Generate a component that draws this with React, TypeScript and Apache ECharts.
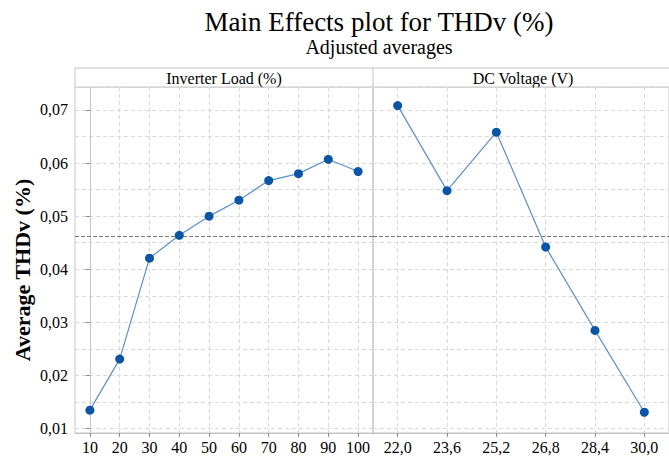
import React, { useEffect, useRef } from "react";
import * as echarts from "echarts";

const TITLE = "Main Effects plot for THDv (%)";
const SUBTITLE = "Adjusted averages";
const Y_NAME = "Average THDv (%)";
const PANEL_LABELS = ["Inverter Load (%)", "DC Voltage (V)"];

const LOAD_CATS = ["10", "20", "30", "40", "50", "60", "70", "80", "90", "100"];
const LOAD_VALUES = [0.0135, 0.0231, 0.0421, 0.0464, 0.05, 0.053, 0.0567, 0.058, 0.0607, 0.0584];

const VOLT_CATS = ["22,0", "23,6", "25,2", "26,8", "28,4", "30,0"];
const VOLT_VALUES = [0.0708, 0.0548, 0.0658, 0.0442, 0.0285, 0.0131];

const Y_TICKS = [0.01, 0.02, 0.03, 0.04, 0.05, 0.06, 0.07];
const Y_MIN = 0.0092;
const Y_MAX = 0.0743;
const MEAN = 0.0462;

const FONT = "'Liberation Serif', 'Times New Roman', serif";
const BORDER = "#c4c4c4";
const GRID_LINE = "#d9d9d9";
const LINE_COLOR = "#5a8fd0";
const MARKER_COLOR = "#0a55a5";

const fmtY = (v: number) => {
  const r = Math.round(v * 100) / 100;
  if (Math.abs(v - r) > 1e-6) return "";
  return r.toFixed(2).replace(".", ",");
};

export default function App() {
  const ref = useRef<HTMLDivElement>(null);
  useEffect(() => {
    document.body.style.margin = "0";
    if (!ref.current) return;
    const chart = echarts.init(ref.current, null, { renderer: "svg" });

    const PL = 75, PT = 87, PH = 346, W0 = 298, W1 = 300;

    const xAxisBase = (cats: string[], gridIndex: number) => {
      const idx = cats.map((_, i) => i);
      return {
        type: "value",
        gridIndex,
        min: -0.5,
        max: cats.length - 0.5,
        splitNumber: cats.length,
        minInterval: 1,
        maxInterval: 1,
        axisLine: { show: true, lineStyle: { color: BORDER, width: 1 } },
        axisTick: { show: true, customValues: idx, length: 4, lineStyle: { color: "#8c8c8c" } },
        axisLabel: {
          show: true,
          customValues: idx,
          formatter: (v: number) => (Number.isInteger(v) ? cats[v] ?? "" : ""),
          margin: 6,
          color: "#000",
          fontSize: 16,
          fontFamily: FONT,
        },
        splitLine: { show: true, lineStyle: { color: GRID_LINE, type: [4, 3], width: 1 } },
      };
    };

    const yLabelAxis = (gridIndex: number, showLabels: boolean) => ({
      type: "value",
      gridIndex,
      min: Y_MIN,
      max: Y_MAX,
      splitNumber: 6,
      minInterval: 0.01,
      maxInterval: 0.01,
      axisLine: { show: showLabels, lineStyle: { color: BORDER } },
      axisTick: { show: showLabels, length: 4, customValues: Y_TICKS, lineStyle: { color: "#8c8c8c" } },
      axisLabel: {
        show: showLabels,
        customValues: Y_TICKS,
        formatter: fmtY,
        margin: 7,
        color: "#000",
        fontSize: 16,
        fontFamily: FONT,
      },
      splitLine: { show: false },
    });

    const yGridAxis = (gridIndex: number) => ({
      type: "value",
      gridIndex,
      min: Y_MIN,
      max: Y_MAX,
      splitNumber: 13,
      minInterval: 0.005,
      maxInterval: 0.005,
      axisLine: { show: false },
      axisTick: { show: false },
      axisLabel: { show: false },
      splitLine: { show: true, lineStyle: { color: GRID_LINE, type: [4, 3], width: 1 } },
    });

    const meanLine = {
      silent: true,
      precision: 5,
      symbol: ["none", "none"],
      label: { show: false },
      lineStyle: { color: "#7a7a7a", type: [4, 2], width: 1 },
      data: [{ yAxis: MEAN }],
    };

    const series = (x: number, y: number, data: number[]) => ({
      type: "line",
      xAxisIndex: x,
      yAxisIndex: y,
      data: data.map((v, i) => [i, v]),
      symbol: "circle",
      symbolSize: 9,
      itemStyle: { color: MARKER_COLOR },
      lineStyle: { color: LINE_COLOR, width: 1.2 },
      markLine: meanLine,
      z: 5,
    });

    chart.setOption({
      animation: false,
      backgroundColor: "#fff",
      title: [
        {
          text: TITLE,
          left: 374,
          top: 3,
          textAlign: "center",
          textStyle: { fontFamily: FONT, fontSize: 27, fontWeight: "normal", color: "#000" },
        },
        {
          text: SUBTITLE,
          left: 374,
          top: 32,
          textAlign: "center",
          textStyle: { fontFamily: FONT, fontSize: 20, fontWeight: "normal", color: "#000" },
        },
      ],
      grid: [
        { left: PL, top: PT, width: W0, height: PH, show: true, borderColor: BORDER, borderWidth: 1, containLabel: false },
        { left: PL + W0, top: PT, width: W1, height: PH, show: true, borderColor: BORDER, borderWidth: 1, containLabel: false },
      ],
      xAxis: [xAxisBase(LOAD_CATS, 0), xAxisBase(VOLT_CATS, 1)],
      yAxis: [yLabelAxis(0, true), yGridAxis(0), yLabelAxis(1, false), yGridAxis(1)],
      series: [series(0, 0, LOAD_VALUES), series(1, 2, VOLT_VALUES)],
      graphic: [
        {
          type: "rect",
          shape: { x: PL, y: 68, width: W0 + W1, height: PT - 68 },
          style: { fill: "#fff", stroke: BORDER, lineWidth: 1 },
          silent: true,
        },
        {
          type: "line",
          shape: { x1: PL + W0, y1: 68, x2: PL + W0, y2: PT },
          style: { stroke: BORDER, lineWidth: 1 },
          silent: true,
        },
        {
          type: "text",
          x: PL + W0 / 2,
          y: 78,
          style: { text: PANEL_LABELS[0], fontFamily: FONT, fontSize: 16, fill: "#000", textAlign: "center", textVerticalAlign: "middle" },
          silent: true,
        },
        {
          type: "text",
          x: PL + W0 + W1 / 2,
          y: 78,
          style: { text: PANEL_LABELS[1], fontFamily: FONT, fontSize: 16, fill: "#000", textAlign: "center", textVerticalAlign: "middle" },
          silent: true,
        },
        {
          type: "text",
          x: 22,
          y: 270,
          rotation: Math.PI / 2,
          style: { text: Y_NAME, fontFamily: FONT, fontSize: 22, fontWeight: "bold", fill: "#000", textAlign: "center", textVerticalAlign: "middle" },
          silent: true,
        },
      ],
    });
    return () => chart.dispose();
  }, []);
  return <div ref={ref} style={{ width: 669, height: 458 }} />;
}
